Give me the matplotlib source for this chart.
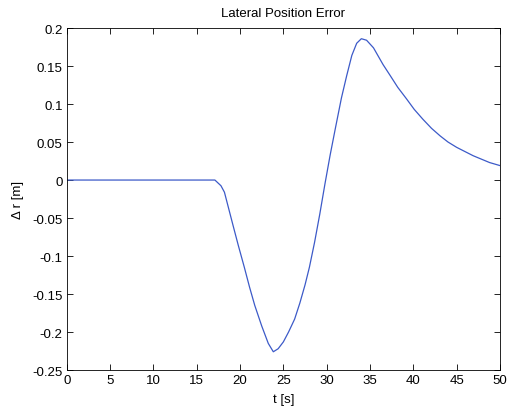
import matplotlib
matplotlib.use("Agg")
import matplotlib.pyplot as plt

# data
t = [0, 5, 10, 15, 17.1, 17.8, 18.2, 18.7, 19.2, 19.8, 20.5, 21.1, 21.7, 22.5, 23.26,
     23.84, 24.4, 25.0, 25.6, 26.3, 26.9, 27.5, 28.0, 28.6, 29.2, 29.8, 30.4, 31.0,
     31.7, 32.3, 32.9, 33.46, 34.0, 34.6, 35.4, 36.5, 37.3, 38.2, 39.2, 40.1, 41.1,
     42.1, 43.1, 44.0, 45.0, 46.9, 48.8, 50.0]
dr = [0, 0, 0, 0, 0, -0.0075, -0.016, -0.038, -0.060, -0.086, -0.115, -0.141, -0.165,
      -0.192, -0.215, -0.226, -0.222, -0.213, -0.200, -0.183, -0.162, -0.138, -0.115,
      -0.082, -0.045, -0.005, 0.033, 0.068, 0.108, 0.137, 0.164, 0.180, 0.186, 0.184,
      0.174, 0.152, 0.138, 0.122, 0.107, 0.093, 0.080, 0.068, 0.058, 0.050, 0.043,
      0.032, 0.023, 0.019]

xticks = list(range(0, 51, 5))
yticks = [0.2, 0.15, 0.1, 0.05, 0, -0.05, -0.1, -0.15, -0.2, -0.25]
ylabels = ["0.2", "0.15", "0.1", "0.05", "0", "-0.05", "-0.1", "-0.15", "-0.2", "-0.25"]

plt.rcParams["font.family"] = ["Liberation Sans", "DejaVu Sans"]
plt.rcParams["font.size"] = 9.5

fig = plt.figure(figsize=(5.08, 4.10), dpi=100)
ax = fig.add_axes([0.1313, 0.0951, 0.853, 0.834])

ax.plot(t, dr, color="#3c5ac8", linewidth=0.9)

ax.set_xlim(0, 50)
ax.set_ylim(-0.25, 0.2)
ax.set_xticks(xticks)
ax.set_xticklabels([str(v) for v in xticks])
ax.set_yticks(yticks)
ax.set_yticklabels(ylabels)
ax.tick_params(direction="in", top=True, right=True, length=4, width=0.6, labelsize=9.5, pad=3)
for s in ax.spines.values():
    s.set_linewidth(0.6)

ax.set_xlabel("t [s]", fontsize=9.5)
ax.xaxis.set_label_coords(0.5, -0.068)
ax.set_ylabel("Δ r [m]", fontsize=9.5)
ax.yaxis.set_label_coords(-0.099, 0.5)
ax.set_title("Lateral Position Error", fontsize=9.5, pad=9)

fig.savefig("out.png", dpi=100)
plt.close()
